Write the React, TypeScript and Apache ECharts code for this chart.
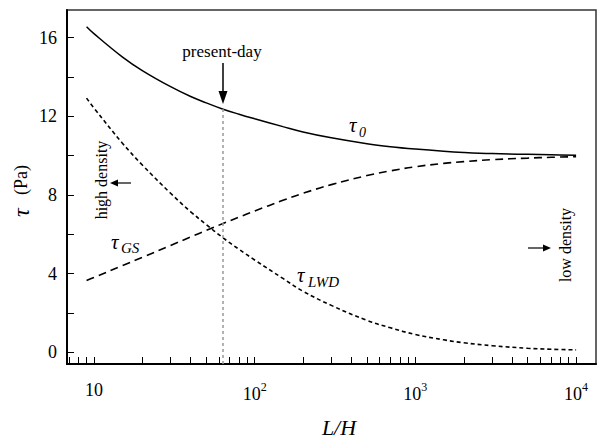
import React, { useEffect, useRef } from 'react';
import * as echarts from 'echarts';

// L/H sample positions
const LH = [9, 10, 15, 20, 30, 40, 50, 63, 80, 100, 150, 200, 300, 500, 700, 1000, 1500, 2000, 3000, 5000, 7000, 10000];
// total stress tau_0 (Pa)
const tau0 = [16.55, 16.2, 15.02, 14.32, 13.5, 13.0, 12.68, 12.37, 12.1, 11.87, 11.47, 11.2, 10.9, 10.6, 10.45, 10.33, 10.22, 10.16, 10.1, 10.06, 10.04, 10.02];
// grain stress tau_GS (Pa)
const tauGS = [3.65, 3.8, 4.4, 4.82, 5.43, 5.86, 6.19, 6.53, 6.87, 7.18, 7.72, 8.08, 8.52, 8.98, 9.22, 9.43, 9.6, 9.69, 9.79, 9.87, 9.91, 9.94];
// LWD stress tau_LWD (Pa)
const tauLWD = [12.92, 12.42, 10.64, 9.52, 8.08, 7.14, 6.49, 5.84, 5.23, 4.69, 3.75, 3.1, 2.38, 1.62, 1.24, 0.9, 0.63, 0.48, 0.33, 0.2, 0.15, 0.12];

const xMin = 6.8;
const xMax = 13300;
const yMin = -0.6;
const yMax = 17.4;
const xTickValues = [7, 8, 9, 10, 20, 30, 40, 50, 60, 70, 80, 90, 100, 200, 300, 400, 500, 600, 700, 800, 900, 1000, 2000, 3000, 4000, 5000, 6000, 7000, 8000, 9000, 10000];
const xLabelPowers = [1, 2, 3, 4];
const yLabelValues = [0, 4, 8, 12, 16];
const yTickValues = [0, 2, 4, 6, 8, 10, 12, 14, 16];
const presentDay = 63;

const SERIF = '"Liberation Serif", "DejaVu Serif", serif';

export default function App() {
  const ref = useRef<HTMLDivElement>(null);

  useEffect(() => {
    if (!ref.current) return;
    const chart = echarts.init(ref.current, undefined, { renderer: 'svg' });
    const toData = (arr: number[]) => LH.map((v, i) => [Math.log10(v), arr[i]]);
    const presentIdx = LH.indexOf(presentDay);

    const option: any = {
      animation: false,
      backgroundColor: '#fff',
      grid: {
        left: 67,
        top: 10,
        right: 6,
        bottom: 77,
        show: true,
        borderColor: '#333',
        borderWidth: 1.5,
        backgroundColor: 'transparent',
      },
      xAxis: {
        type: 'value',
        min: Math.log10(xMin),
        max: Math.log10(xMax),
        axisLine: { show: true, onZero: false, lineStyle: { color: '#000', width: 2 } },
        axisTick: {
          show: true,
          inside: true,
          length: 7,
          customValues: xTickValues.map((v) => Math.log10(v)),
          lineStyle: { color: '#000', width: 1 },
        },
        axisLabel: {
          customValues: xLabelPowers,
          margin: 17,
          color: '#000',
          fontFamily: SERIF,
          fontSize: 18,
          formatter: (v: number) => {
            const p = Math.round(v);
            return p === 1 ? '{b|10}' : '{b|10}{s|' + p + '}';
          },
          rich: {
            b: { fontSize: 18, fontFamily: SERIF, color: '#000', verticalAlign: 'bottom' },
            s: { fontSize: 12, fontFamily: SERIF, color: '#000', verticalAlign: 'bottom', padding: [0, 0, 10, 0] },
          },
        },
        splitLine: { show: false },
      },
      yAxis: {
        type: 'value',
        min: yMin,
        max: yMax,
        axisLine: { show: true, onZero: false, lineStyle: { color: '#000', width: 2 } },
        axisTick: {
          show: true,
          inside: true,
          length: 7,
          customValues: yTickValues,
          lineStyle: { color: '#000', width: 1 },
        },
        axisLabel: {
          customValues: yLabelValues,
          margin: 10,
          color: '#000',
          fontFamily: SERIF,
          fontSize: 18,
        },
        splitLine: { show: false },
      },
      series: [
        {
          name: 'tau0',
          type: 'line',
          data: toData(tau0),
          symbol: 'none',
          smooth: 0.4,
          lineStyle: { color: '#000', width: 1.5, type: 'solid' },
          z: 3,
          markLine: {
            silent: true,
            symbol: ['none', 'none'],
            label: { show: false },
            lineStyle: { color: '#999', width: 1.5, type: [3, 3] },
            data: [
              [
                { coord: [Math.log10(presentDay), tau0[presentIdx]] },
                { coord: [Math.log10(presentDay), yMin] },
              ],
            ],
          },
        },
        {
          name: 'tauGS',
          type: 'line',
          data: toData(tauGS),
          symbol: 'none',
          smooth: 0.4,
          lineStyle: { color: '#000', width: 1.6, type: [8, 5] },
        },
        {
          name: 'tauLWD',
          type: 'line',
          data: toData(tauLWD),
          symbol: 'none',
          smooth: 0.4,
          lineStyle: { color: '#000', width: 1.6, type: [4, 3] },
        },
      ],
      graphic: [
        // present-day annotation
        {
          type: 'text',
          x: 222,
          y: 51,
          style: { text: 'present-day', fontSize: 17, fontFamily: SERIF, fill: '#000', align: 'center', verticalAlign: 'middle' },
        },
        { type: 'line', shape: { x1: 223, y1: 63, x2: 223, y2: 94 }, style: { stroke: '#000', lineWidth: 1.5 } },
        { type: 'polygon', shape: { points: [[218.5, 91], [227.5, 91], [223, 104]] }, style: { fill: '#000' } },
        // high density
        {
          type: 'text',
          x: 101,
          y: 180,
          rotation: Math.PI / 2,
          style: { text: 'high density', fontSize: 16, fontFamily: SERIF, fill: '#000', align: 'center', verticalAlign: 'middle' },
        },
        { type: 'line', shape: { x1: 116, y1: 183, x2: 131, y2: 183 }, style: { stroke: '#000', lineWidth: 1.2 } },
        { type: 'polygon', shape: { points: [[110, 183], [118, 179.5], [118, 186.5]] }, style: { fill: '#000' } },
        // low density
        {
          type: 'text',
          x: 565,
          y: 245,
          rotation: Math.PI / 2,
          style: { text: 'low density', fontSize: 16, fontFamily: SERIF, fill: '#000', align: 'center', verticalAlign: 'middle' },
        },
        { type: 'line', shape: { x1: 528, y1: 248, x2: 544, y2: 248 }, style: { stroke: '#000', lineWidth: 1.2 } },
        { type: 'polygon', shape: { points: [[551, 248], [543, 244.5], [543, 251.5]] }, style: { fill: '#000' } },
        // tau_0 label
        { type: 'text', x: 349, y: 125, style: { text: 'τ', fontSize: 21, fontStyle: 'italic', fontFamily: SERIF, fill: '#000', align: 'left', verticalAlign: 'middle' } },
        { type: 'text', x: 359, y: 132, style: { text: '0', fontSize: 14, fontStyle: 'italic', fontFamily: SERIF, fill: '#000', align: 'left', verticalAlign: 'middle' } },
        // tau_GS label
        { type: 'text', x: 111, y: 242, style: { text: 'τ', fontSize: 21, fontStyle: 'italic', fontFamily: SERIF, fill: '#000', align: 'left', verticalAlign: 'middle' } },
        { type: 'text', x: 121, y: 248, style: { text: 'GS', fontSize: 15, fontStyle: 'italic', fontFamily: SERIF, fill: '#000', align: 'left', verticalAlign: 'middle' } },
        // tau_LWD label
        { type: 'text', x: 297, y: 275, style: { text: 'τ', fontSize: 21, fontStyle: 'italic', fontFamily: SERIF, fill: '#000', align: 'left', verticalAlign: 'middle' } },
        { type: 'text', x: 308, y: 282, style: { text: 'LWD', fontSize: 15, fontStyle: 'italic', fontFamily: SERIF, fill: '#000', align: 'left', verticalAlign: 'middle' } },
        // y axis title
        {
          type: 'text',
          x: 21,
          y: 191,
          rotation: Math.PI / 2,
          style: {
            text: '{t|τ}{p|   (Pa)}',
            align: 'center',
            verticalAlign: 'middle',
            rich: {
              t: { fontSize: 24, fontStyle: 'italic', fontFamily: SERIF, fill: '#000' },
              p: { fontSize: 18, fontFamily: SERIF, fill: '#000' },
            },
          },
        },
        // x axis title
        {
          type: 'text',
          x: 339,
          y: 427,
          style: { text: 'L/H', fontSize: 22, fontStyle: 'italic', fontFamily: SERIF, fill: '#000', align: 'center', verticalAlign: 'middle' },
        },
      ],
    };

    chart.setOption(option);
    return () => chart.dispose();
  }, []);

  return <div ref={ref} style={{ width: 602, height: 441, position: 'absolute', left: 0, top: 0 }} />;
}
